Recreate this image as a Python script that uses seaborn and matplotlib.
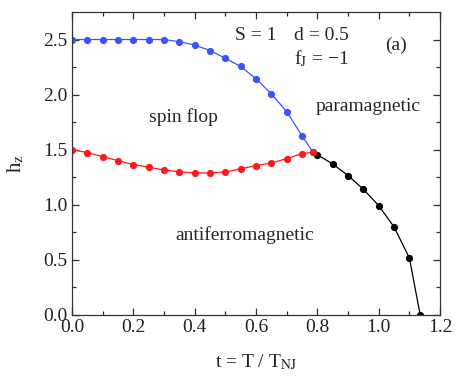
import matplotlib
matplotlib.use("Agg")

import numpy as np
import pandas as pd
import matplotlib.pyplot as plt
import seaborn as sns

# spin flop boundary (blue)
t_sf = [0.0, 0.05, 0.1, 0.15, 0.2, 0.25, 0.3, 0.35, 0.4, 0.45, 0.5,
        0.55, 0.6, 0.65, 0.7, 0.75, 0.786]
h_sf = [2.5, 2.5, 2.5, 2.5, 2.5, 2.5, 2.5, 2.48, 2.45, 2.40, 2.33,
        2.255, 2.143, 2.006, 1.845, 1.625, 1.475]

# antiferromagnetic / spin flop boundary (red)
t_af = [0.0, 0.05, 0.1, 0.15, 0.2, 0.25, 0.3, 0.35, 0.4, 0.45, 0.5,
        0.55, 0.6, 0.65, 0.7, 0.75, 0.786]
h_af = [1.5, 1.473, 1.436, 1.40, 1.364, 1.34, 1.315, 1.30, 1.288, 1.288, 1.297,
        1.327, 1.355, 1.379, 1.418, 1.464, 1.475]

# antiferromagnetic / paramagnetic boundary (black)
t_pm = [0.786, 0.8, 0.85, 0.9, 0.95, 1.0, 1.05, 1.1, 1.135]
h_pm = [1.475, 1.452, 1.37, 1.264, 1.14, 0.991, 0.797, 0.515, 0.0]

sns.set_style("ticks")
plt.rcParams["font.family"] = ["Liberation Serif", "DejaVu Serif"]
plt.rcParams["mathtext.fontset"] = "stix"

fs = 14
dark = "#333333"

fig = plt.figure(figsize=(4.57, 3.82), dpi=100)
ax = fig.add_axes([0.1575, 0.176, 0.8055, 0.7926])

# black first so the red meeting point sits on top
sns.lineplot(x=t_pm[1:], y=h_pm[1:], ax=ax, color="black", lw=0.9,
             marker="o", markersize=5.2, markeredgewidth=0, sort=False)
ax.plot(t_pm[:2], h_pm[:2], color="black", lw=0.9)
sns.lineplot(x=t_sf, y=h_sf, ax=ax, color="#3a55ff", lw=0.9,
             marker="o", markersize=5.2, markeredgewidth=0, sort=False)
sns.lineplot(x=t_af, y=h_af, ax=ax, color="#ff1a1a", lw=0.9,
             marker="o", markersize=5.2, markeredgewidth=0, sort=False)

ax.set_xlim(0, 1.2)
ax.set_ylim(0, 2.75)
ax.set_xticks(np.arange(0, 1.21, 0.2))
ax.set_xticks(np.arange(0.1, 1.2, 0.2), minor=True)
ax.set_yticks(np.arange(0, 2.51, 0.5))
ax.set_yticks(np.arange(0.25, 2.75, 0.5), minor=True)
ax.tick_params(which="both", direction="in", top=True, right=True,
               labelsize=fs, width=0.9, color=dark, labelcolor="#222222", pad=3)
ax.tick_params(which="major", length=5)
ax.tick_params(which="minor", length=3)
for s in ax.spines.values():
    s.set_linewidth(0.9)
    s.set_color(dark)

ax.set_xlabel("t = T / T$_\\mathrm{NJ}$", fontsize=fs, color="#222222", labelpad=12)
ax.set_ylabel("h$_\\mathrm{z}$", fontsize=fs + 1, color="#222222", labelpad=12)

ax.text(0.53, 2.54, "S = 1", fontsize=fs, va="center")
ax.text(0.725, 2.54, "d = 0.5", fontsize=fs, va="center")
ax.text(0.725, 2.33, "f$_\\mathrm{J}$ = \u22121", fontsize=fs, va="center")
ax.text(1.02, 2.45, "(a)", fontsize=fs, va="center")
ax.text(0.25, 1.80, "spin flop", fontsize=fs, va="center")
ax.text(0.795, 1.89, "paramagnetic", fontsize=fs, va="center")
ax.text(0.338, 0.725, "antiferromagnetic", fontsize=fs, va="center")

plt.savefig("out.png", dpi=100)
